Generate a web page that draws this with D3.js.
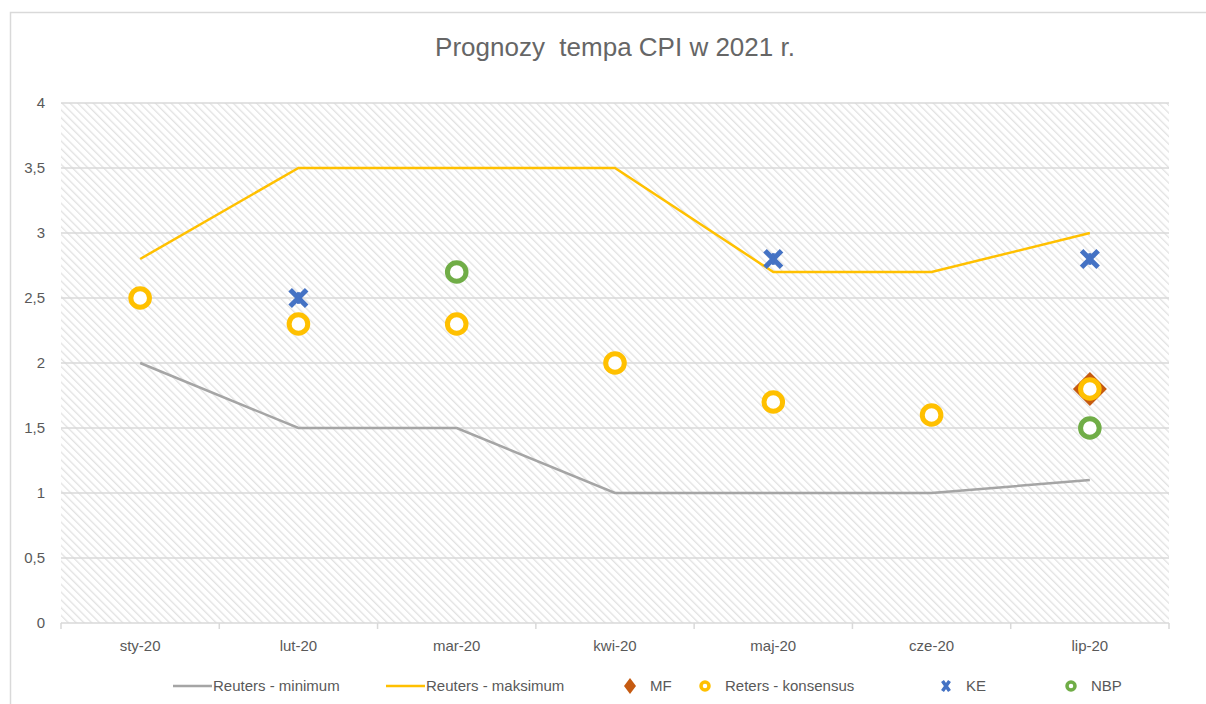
<!DOCTYPE html>
<html>
<head>
<meta charset="utf-8">
<script src="https://cdn.jsdelivr.net/npm/d3@7"></script>
<style>
  body { margin: 0; background: #fff; }
  text { font-family: "Liberation Sans", "Open Sans", sans-serif; fill: #595959; white-space: pre; }
</style>
</head>
<body>
<div id="chart"></div>
<script>
const months = ["sty-20", "lut-20", "mar-20", "kwi-20", "maj-20", "cze-20", "lip-20"];
const reutersMin = [2, 1.5, 1.5, 1, 1, 1, 1.1];
const reutersMax = [2.8, 3.5, 3.5, 3.5, 2.7, 2.7, 3.0];
const mf = [null, null, null, null, null, null, 1.8];
const konsensus = [2.5, 2.3, 2.3, 2.0, 1.7, 1.6, 1.8];
const ke = [null, 2.5, null, null, 2.8, null, 2.8];
const nbp = [null, null, 2.7, null, null, null, 1.5];
const yTicks = [0, 0.5, 1, 1.5, 2, 2.5, 3, 3.5, 4];

const W = 1206, H = 704;
const margin = {top: 103, right: 37, bottom: 81, left: 61},
    width = W - margin.left - margin.right,
    height = H - margin.top - margin.bottom;

const svg = d3.select("#chart").append("svg")
    .attr("width", W)
    .attr("height", H);

// hatch pattern
const defs = svg.append("defs");
const pat = defs.append("pattern")
    .attr("id", "hatch")
    .attr("patternUnits", "userSpaceOnUse")
    .attr("width", 5.5).attr("height", 5.5)
    .attr("patternTransform", "rotate(-45)");
pat.append("rect").attr("width", 5.5).attr("height", 5.5).attr("fill", "#fff");
pat.append("line")
    .attr("x1", 0).attr("y1", 0).attr("x2", 0).attr("y2", 5.5)
    .attr("stroke", "#e2e2e2").attr("stroke-width", 2.6);

// outer border
svg.append("path")
    .attr("d", "M10.5," + H + "V12.5H" + W)
    .attr("fill", "none")
    .attr("stroke", "#d9d9d9")
    .attr("stroke-width", 1.5);

svg.append("text")
    .attr("x", 615).attr("y", 56)
    .attr("text-anchor", "middle")
    .style("font-size", "26px")
    .style("fill", "#666")
    .text("Prognozy  tempa CPI w 2021 r.");

const g = svg.append("g")
    .attr("transform", "translate(" + margin.left + "," + margin.top + ")");

const x = d3.scaleBand().domain(months).range([0, width]);
const y = d3.scaleLinear().domain([0, 4]).range([height, 0]);
const cx = d => x(d) + x.bandwidth() / 2;

g.append("rect")
    .attr("width", width).attr("height", height)
    .attr("fill", "url(#hatch)");

g.selectAll(".grid").data(yTicks.filter(d => d > 0)).enter()
    .append("line")
    .attr("x1", 0).attr("x2", width)
    .attr("y1", d => y(d)).attr("y2", d => y(d))
    .attr("stroke", "#d9d9d9").attr("stroke-width", 1.5);

// y axis labels
g.selectAll(".ylab").data(yTicks).enter()
    .append("text")
    .attr("x", -16).attr("y", d => y(d))
    .attr("dy", "0.35em")
    .attr("text-anchor", "end")
    .style("font-size", "15px")
    .text(d => String(d).replace(".", ","));

// x axis
const xAxis = g.append("g")
    .attr("transform", "translate(0," + height + ")");
xAxis.append("line")
    .attr("x1", 0).attr("x2", width)
    .attr("stroke", "#d9d9d9").attr("stroke-width", 1.5);
xAxis.selectAll(".tick").data(d3.range(months.length + 1)).enter()
    .append("line")
    .attr("x1", i => i * x.bandwidth()).attr("x2", i => i * x.bandwidth())
    .attr("y1", 0).attr("y2", 6)
    .attr("stroke", "#d9d9d9").attr("stroke-width", 1.5);
xAxis.selectAll(".xlab").data(months).enter()
    .append("text")
    .attr("x", d => cx(d)).attr("y", 28)
    .attr("text-anchor", "middle")
    .style("font-size", "15px")
    .text(d => d);

// lines
const line = d3.line()
    .x((d, i) => cx(months[i]))
    .y(d => y(d));

g.append("path").datum(reutersMin)
    .attr("fill", "none").attr("stroke", "#a5a5a5").attr("stroke-width", 2.5)
    .attr("d", line);
g.append("path").datum(reutersMax)
    .attr("fill", "none").attr("stroke", "#ffc000").attr("stroke-width", 2.5)
    .attr("d", line);

// marker helpers
function diamond(sel, s) {
  sel.append("path")
      .attr("d", "M0," + (-s) + "L" + s + ",0L0," + s + "L" + (-s) + ",0Z")
      .attr("fill", "#c55a11");
}
function ring(sel, color, r, sw) {
  sel.append("circle")
      .attr("r", r).attr("fill", "#fff")
      .attr("stroke", color).attr("stroke-width", sw);
}
function cross(sel, s, sw) {
  sel.append("path")
      .attr("d", "M" + (-s) + "," + (-s) + "L" + s + "," + s + "M" + s + "," + (-s) + "L" + (-s) + "," + s)
      .attr("stroke", "#4472c4").attr("stroke-width", sw)
      .attr("stroke-linecap", "square").attr("fill", "none");
  sel.append("path")
      .attr("d", "M0," + (-s * 0.9) + "V" + (s * 0.9))
      .attr("stroke", "#4472c4").attr("stroke-width", 3).attr("fill", "none");
}

function pts(data) {
  return data.map((v, i) => ({v: v, m: months[i]})).filter(d => d.v !== null);
}

g.selectAll(".mf").data(pts(mf)).enter().append("g")
    .attr("transform", d => "translate(" + cx(d.m) + "," + y(d.v) + ")")
    .each(function() { diamond(d3.select(this), 17); });

g.selectAll(".kons").data(pts(konsensus)).enter().append("g")
    .attr("transform", d => "translate(" + cx(d.m) + "," + y(d.v) + ")")
    .each(function() { ring(d3.select(this), "#ffc000", 9.3, 5); });

g.selectAll(".ke").data(pts(ke)).enter().append("g")
    .attr("transform", d => "translate(" + cx(d.m) + "," + y(d.v) + ")")
    .each(function() { cross(d3.select(this), 6.5, 5); });

g.selectAll(".nbp").data(pts(nbp)).enter().append("g")
    .attr("transform", d => "translate(" + cx(d.m) + "," + y(d.v) + ")")
    .each(function() { ring(d3.select(this), "#70ad47", 9.3, 5); });

// legend
const legend = svg.append("g").attr("transform", "translate(0,686)");
const items = [
  {label: "Reuters - minimum", type: "line", color: "#a5a5a5", x: 173},
  {label: "Reuters - maksimum", type: "line", color: "#ffc000", x: 386},
  {label: "MF", type: "diamond", x: 630},
  {label: "Reters - konsensus", type: "ring", color: "#ffc000", x: 705},
  {label: "KE", type: "cross", x: 946},
  {label: "NBP", type: "ring", color: "#70ad47", x: 1071}
];
items.forEach(it => {
  const li = legend.append("g").attr("transform", "translate(" + it.x + ",0)");
  let tx;
  if (it.type === "line") {
    li.append("line").attr("x1", 0).attr("x2", 39)
        .attr("stroke", it.color).attr("stroke-width", 2.5);
    tx = 40;
  } else {
    const m = li.append("g");
    if (it.type === "diamond") {
      m.append("path").attr("d", "M0,-8L6,0L0,8L-6,0Z").attr("fill", "#c55a11");
    } else if (it.type === "ring") {
      m.append("circle").attr("r", 4).attr("fill", "#fff")
          .attr("stroke", it.color).attr("stroke-width", 3.5);
    } else {
      m.append("path").attr("d", "M-3.5,-5L3.5,5M3.5,-5L-3.5,5")
          .attr("stroke", "#4472c4").attr("stroke-width", 3.5).attr("fill", "none");
    }
    tx = 20;
  }
  li.append("text")
      .attr("x", tx).attr("y", 0).attr("dy", "0.35em")
      .style("font-size", "15px")
      .text(it.label);
});
</script>
</body>
</html>
